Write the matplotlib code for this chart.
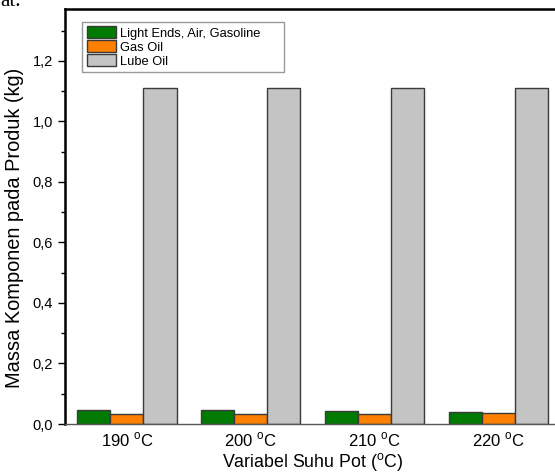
import matplotlib.pyplot as plt
import numpy as np

plt.rcParams['font.family'] = ['Liberation Sans', 'DejaVu Sans']

suhu = ['190', '200', '210', '220']
light_ends = [0.046, 0.045, 0.044, 0.041]
gas_oil = [0.033, 0.033, 0.034, 0.035]
lube_oil = [1.11, 1.11, 1.11, 1.11]

series = [
    ('Light Ends, Air, Gasoline', light_ends, '#007a00'),
    ('Gas Oil', gas_oil, '#ff8000'),
    ('Lube Oil', lube_oil, '#c4c4c4'),
]

fig = plt.figure(figsize=(5.55, 4.76), dpi=100)
ax = fig.add_axes([0.1171, 0.1092, 0.893, 0.871])

x = np.arange(len(suhu))
w = 0.267
for i, (label, vals, color) in enumerate(series):
    ax.bar(x + (i - 1) * w, vals, w, color=color, edgecolor='#3a3a3a',
           linewidth=1.0, label=label)

ax.set_xlim(-0.5, 3.5)
ax.set_ylim(0, 1.37)
ax.set_xticks(x)
ax.set_xticklabels([s + r' $^{\mathregular{o}}$C' for s in suhu], fontsize=12)
ax.tick_params(axis='x', length=0, pad=5)
yt = np.arange(0, 1.21, 0.2)
ax.set_yticks(yt)
ax.set_yticklabels([('%.1f' % v).replace('.', ',') for v in yt], fontsize=10.5)
ax.set_yticks(np.arange(0.1, 1.31, 0.2), minor=True)
ax.tick_params(axis='y', which='major', length=5, width=1, direction='out')
ax.tick_params(axis='y', which='minor', length=3, width=1, direction='out')

for side in ['left', 'top', 'right']:
    ax.spines[side].set_linewidth(1.8)
ax.spines['bottom'].set_linewidth(1.0)
ax.spines['bottom'].set_color('#555555')

ax.set_ylabel('Massa Komponen pada Produk (kg)', fontsize=14.4, va='center')
ax.yaxis.set_label_coords(-50 / 495.5, 0.474)
ax.set_xlabel(r'Variabel Suhu Pot ($^{\mathregular{o}}$C)', fontsize=12.8,
              va='center')
ax.xaxis.set_label_coords(247.5 / 495.5, -38 / 414.5)

leg = ax.legend(loc='upper left', bbox_to_anchor=(0.0343, 0.970, 0.4077, 0.0),
                mode='expand', fontsize=9.3, fancybox=False, framealpha=1,
                edgecolor='#999999', handlelength=2.3, handleheight=1.05,
                labelspacing=0.05, handletextpad=0.3, borderpad=0.35,
                borderaxespad=0)
leg.get_frame().set_linewidth(1.0)

fig.text(0.0, 1 - 6 / 476, 'at.', fontfamily='Liberation Serif', fontsize=15,
         va='baseline', ha='left')

fig.savefig('out.png', dpi=100)
